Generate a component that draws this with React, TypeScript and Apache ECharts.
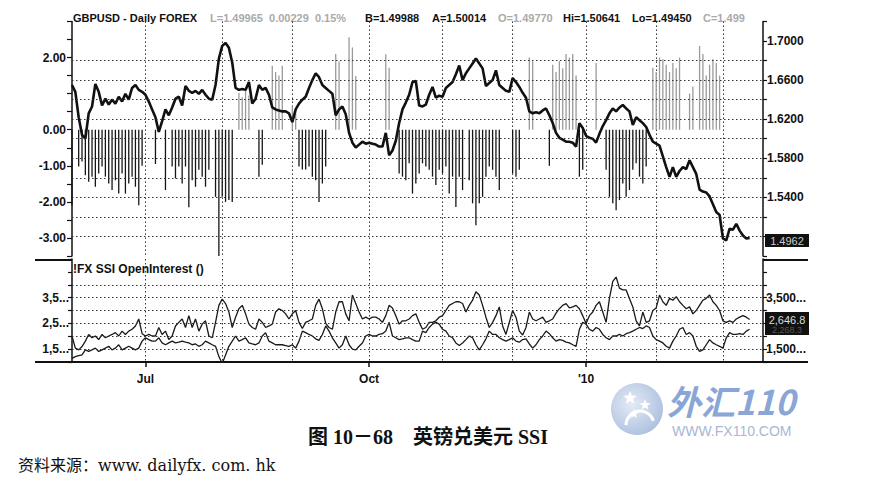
import { useEffect, useRef } from 'react';
import * as echarts from 'echarts';

// ---------- categories (trading days per month, Jun 2009 – Mar 2010) ----------
const MONTHS = ['Jun', 'Jul', 'Aug', 'Sep', 'Oct', 'Nov', 'Dec', 'Jan', 'Feb', 'Mar'];
const MONTH_DAYS = [22, 23, 21, 23, 22, 21, 22, 21, 20, 13];
const MONTH_LABELS: Record<string, string> = { Jul: 'Jul', Oct: 'Oct', Jan: "'10" };

// ---------- GBPUSD daily close ----------
const PRICE = [
  1.655, 1.648, 1.622, 1.604, 1.600, 1.626, 1.633, 1.656, 1.648, 1.634,
  1.641, 1.635, 1.640, 1.636, 1.643, 1.638, 1.646, 1.640, 1.652, 1.655,
  1.650, 1.648, 1.645, 1.638, 1.630, 1.622, 1.607, 1.618, 1.630, 1.624,
  1.632, 1.641, 1.643, 1.634, 1.654, 1.649, 1.647, 1.649, 1.646, 1.650,
  1.645, 1.641, 1.640, 1.655, 1.682, 1.695, 1.698, 1.693, 1.678, 1.652,
  1.650, 1.651, 1.650, 1.658, 1.636, 1.641, 1.655, 1.650, 1.652, 1.645,
  1.632, 1.630, 1.629, 1.628, 1.628, 1.626, 1.617, 1.630, 1.636, 1.640,
  1.643, 1.652, 1.660, 1.667, 1.663, 1.655, 1.652, 1.649, 1.646, 1.624,
  1.630, 1.633, 1.625, 1.606, 1.596, 1.591, 1.594, 1.597, 1.595, 1.596,
  1.595, 1.594, 1.592, 1.592, 1.606, 1.583, 1.588, 1.598, 1.616, 1.630,
  1.637, 1.645, 1.658, 1.659, 1.634, 1.633, 1.635, 1.645, 1.653, 1.642,
  1.644, 1.643, 1.652, 1.655, 1.658, 1.666, 1.675, 1.660, 1.667, 1.672,
  1.677, 1.682, 1.677, 1.672, 1.654, 1.657, 1.660, 1.670, 1.655, 1.652,
  1.649, 1.648, 1.662, 1.658, 1.653, 1.647, 1.642, 1.628, 1.626, 1.627,
  1.626, 1.629, 1.631, 1.624, 1.616, 1.606, 1.601, 1.599, 1.597, 1.597,
  1.596, 1.592, 1.616, 1.611, 1.603, 1.601, 1.600, 1.596, 1.605, 1.613,
  1.619, 1.626, 1.631, 1.628, 1.632, 1.6345, 1.631, 1.628, 1.614, 1.622,
  1.619, 1.616, 1.612, 1.604, 1.597, 1.595, 1.593, 1.582, 1.571, 1.561,
  1.571, 1.561, 1.567, 1.571, 1.569, 1.578, 1.571, 1.564, 1.548, 1.546,
  1.545, 1.541, 1.533, 1.525, 1.522, 1.498, 1.496, 1.508, 1.507, 1.513,
  1.506, 1.501, 1.498, 1.4985,
];

// ---------- SSI (speculative sentiment index) ----------
const SSI: (number | null)[] = [
  -2.1, null, -1.02, -0.88, -1.26, -1.44, -1.3, -1.58, -1.21, -1.02,
  -1.3, -1.49, -1.67, -1.4, -1.77, -1.21, -1.77, -1.49, -1.3, -1.58,
  -2.09, -1.0, null, null, null, -0.95, null, null, -1.67, null,
  -1.02, -1.35, -1.02, -1.49, -1.02, -2.15, -1.4, -1.58, -1.11, -1.3,
  -1.58, -1.11, null, -1.86, -3.5, -1.86, -2.0, -1.95, -2.0, null,
  1.02, 0.9, 1.1, 0.95, null, null, -1.3, -0.97, null, null,
  1.77, 1.6, 1.5, 1.77, null, null, 0.65, 0.6, -1.02, -1.1,
  -1.1, -1.02, -1.3, -1.4, -2.0, -1.49, -1.02, null, null, 2.1,
  1.9, null, null, 2.56, 2.28, 1.49, null, null, null, null,
  null, null, null, null, 2.09, 1.72, null, null, -1.21, -1.3,
  -1.4, -0.93, -1.77, -1.49, -1.21, -0.93, -1.02, -1.11, -1.3, -1.53,
  -1.11, -1.21, -1.02, -1.77, -1.3, -2.14, -1.3, -1.67, null, -1.4,
  -2.04, -2.65, -2.04, -1.86, -1.3, -1.02, -1.11, -1.3, -1.67, null,
  null, null, -1.21, -1.3, -1.11, null, null, 2.0, 1.9, null,
  null, null, null, -1.0, 1.8, 1.6, 1.9, 1.7, 2.1, 2.0,
  2.1, 1.5, -1.3, -1.11, null, null, null, 1.85, null, null,
  -1.11, -1.86, -2.04, -2.23, -1.95, -1.49, -1.86, -1.67, -1.11, -0.93,
  -1.3, -1.49, -1.02, null, 1.72, 1.6, 2.0, 1.95, 1.8, 1.6,
  1.85, 1.7, 2.0, null, null, 1.0, 1.2, null, 2.32, 2.1,
  1.5, 1.8, 1.95, 1.85, 1.5, null, null, null, null, null,
  null, null, null, null,
];

// ---------- FX SSI open interest (thousands) ----------
const OI_UPPER = [
  2.01, 1.54, 1.47, 1.6, 1.81, 2.07, 1.94, 2.01, 1.87, 2.07,
  1.94, 2.01, 2.07, 2.14, 2.01, 2.2, 2.07, 2.2, 2.27, 2.4,
  2.67, 2.1, 2.01, 2.07, 2.01, 2.01, 2.34, 2.07, 2.2, 1.87,
  2.01, 2.4, 2.54, 2.67, 2.34, 2.8, 2.34, 2.67, 2.2, 2.47,
  2.6, 2.01, 1.94, 2.54, 3.2, 3.44, 3.27, 2.94, 2.34, 2.74,
  3.07, 3.2, 2.87, 2.47, 2.34, 2.27, 2.67, 2.54, 2.34, 2.4,
  2.47, 2.94, 3.07, 3.0, 2.87, 2.67, 2.87, 3.0, 2.54, 2.3,
  2.54, 2.6, 2.67, 3.2, 3.44, 3.07, 2.5, 2.34, 2.27, 2.94,
  3.34, 3.34, 2.87, 2.6, 3.6, 3.27, 2.94, 2.67, 2.74, 2.67,
  2.74, 2.74, 2.67, 2.54, 2.8, 3.2, 3.1, 2.8, 2.47, 2.6,
  2.6, 2.67, 2.8, 2.87, 2.54, 2.27, 2.34, 2.54, 2.54, 2.6,
  2.74, 2.8, 3.0, 3.2, 3.27, 3.34, 3.34, 3.27, 2.94, 3.2,
  3.4, 3.73, 3.6, 3.2, 2.74, 2.34, 2.54, 2.8, 3.14, 2.4,
  2.07, 2.54, 3.0, 2.74, 2.2, 2.05, 2.34, 2.94, 2.67, 2.6,
  2.67, 2.74, 2.54, 2.6, 2.67, 2.9, 3.07, 3.2, 3.27, 3.1,
  3.14, 3.2, 3.07, 2.8, 2.5, 2.8, 2.94, 3.2, 3.34, 2.94,
  2.54, 3.47, 4.13, 4.3, 3.87, 3.8, 3.8, 3.47, 3.14, 2.6,
  2.4, 2.94, 2.54, 2.6, 3.0, 3.1, 3.6, 3.34, 3.2, 3.47,
  3.4, 3.54, 3.34, 3.2, 3.07, 3.14, 2.87, 3.0, 3.2, 3.4,
  3.47, 3.6, 3.34, 3.2, 3.0, 2.6, 2.54, 2.6, 2.54, 2.67,
  2.74, 2.8, 2.74, 2.65,
];
const OI_LOWER = [
  1.14, 1.21, 1.25, 1.28, 1.47, 1.41, 1.47, 1.54, 1.41, 1.47,
  1.54, 1.61, 1.47, 1.54, 1.67, 1.47, 1.54, 1.61, 1.54, 1.47,
  1.54, 1.81, 1.94, 1.87, 1.81, 1.81, 1.94, 1.74, 1.67, 1.74,
  1.81, 1.74, 1.77, 1.81, 1.77, 1.74, 1.67, 1.7, 1.61, 1.67,
  1.81, 1.74, 1.67, 1.61, 1.21, 0.94, 1.27, 1.61, 1.81, 2.01,
  1.81, 1.87, 1.94, 1.74, 1.7, 1.67, 1.74, 2.01, 2.14, 1.81,
  1.74, 1.67, 1.67, 1.67, 1.64, 1.61, 1.67, 1.54, 1.81, 2.2,
  2.14, 2.07, 2.01, 1.9, 1.84, 2.07, 2.4, 2.2, 1.94, 1.74,
  1.54, 1.67, 2.01, 1.67, 1.5, 1.47, 1.61, 1.74, 2.01, 2.07,
  2.01, 2.01, 2.07, 2.1, 2.2, 2.54, 2.01, 1.94, 1.87, 1.9,
  1.94, 1.94, 1.87, 1.81, 1.81, 2.2, 2.14, 2.34, 2.47, 2.54,
  2.47, 2.27, 2.2, 2.01, 1.94, 1.74, 1.64, 1.74, 1.87, 2.01,
  1.94, 1.67, 1.47, 1.67, 1.9, 2.2, 2.07, 2.07, 1.94, 1.87,
  1.81, 1.87, 1.94, 1.81, 1.77, 1.87, 1.9, 1.7, 1.54, 1.67,
  1.87, 2.01, 2.2, 2.1, 1.94, 1.81, 1.87, 1.84, 1.77, 1.74,
  1.67, 1.61, 2.27, 2.54, 2.47, 2.27, 2.2, 2.34, 2.27, 2.07,
  1.94, 1.87, 2.01, 2.01, 2.07, 2.01, 2.1, 2.14, 2.2, 2.27,
  2.34, 2.3, 2.4, 2.34, 2.01, 1.87, 1.81, 1.74, 1.61, 1.54,
  1.81, 2.01, 2.27, 2.34, 2.07, 2.14, 2.01, 1.61, 1.41, 1.47,
  1.67, 1.87, 1.74, 1.67, 1.61, 1.54, 1.94, 2.14, 2.07, 2.07,
  2.1, 2.07, 2.2, 2.27,
];

// ---------- axis / annotation text ----------
const PRICE_GRID = [1.5, 1.52, 1.54, 1.56, 1.58, 1.6, 1.62, 1.64, 1.66, 1.68];
const OI_GRID = [1.5, 2, 2.5, 3, 3.5, 4];
const SSI_LABELS = [2, 0, -1, -2, -3];
const PRICE_LABELS = [1.54, 1.58, 1.62, 1.66, 1.7];
const OI_LEFT_LABELS = [1.5, 2.5, 3.5];
const OI_RIGHT_LABELS = [1.5, 3.5];
const HEADER = [
  { t: 'GBPUSD - Daily FOREX', x: 73, dim: false },
  { t: 'L=1.49965  0.00229  0.15%', x: 210, dim: true },
  { t: 'B=1.49988', x: 365, dim: false },
  { t: 'A=1.50014', x: 432, dim: false },
  { t: 'O=1.49770', x: 498, dim: true },
  { t: 'Hi=1.50641', x: 563, dim: false },
  { t: 'Lo=1.49450', x: 632, dim: false },
  { t: 'C=1.499', x: 703, dim: true },
];
const PANEL_TITLE = '!FX SSI OpenInterest ()';
const LAST_PRICE_LABEL = '1.4962';
const LAST_OI_LABELS = ['2,646.8', '2,268.3'];
const CAPTION = '图 10－68　英镑兑美元 SSI';
const SOURCE = '资料来源：www. dailyfx. com. hk';
const WM_TITLE = '外汇110';
const WM_URL = 'WWW.FX110.COM';

const categories: string[] = [];
const monthStart = new Set<number>();
const labelAt = new Map<number, string>();
MONTHS.forEach((m, k) => {
  if (categories.length > 0) monthStart.add(categories.length);
  if (MONTH_LABELS[m]) labelAt.set(categories.length, MONTH_LABELS[m]);
  for (let d = 1; d <= MONTH_DAYS[k]; d++) categories.push(`${m} ${d}`);
});

const near = (list: number[], v: number) => list.some((x) => Math.abs(x - v) < 1e-6);
const SANS = '"Liberation Sans", Arial, sans-serif';
const AX_FONT = { fontFamily: SANS, fontWeight: 'bold' as const, fontSize: 12, color: '#111' };
const DOT = { type: [1.5, 2.5] as number[], color: '#333', width: 1 };

function starPoints(cx: number, cy: number, R: number, r: number) {
  const pts: number[][] = [];
  for (let k = 0; k < 10; k++) {
    const a = -Math.PI / 2 + (k * Math.PI) / 5;
    const rad = k % 2 === 0 ? R : r;
    pts.push([cx + rad * Math.cos(a), cy + rad * Math.sin(a)]);
  }
  return pts;
}

export default function App() {
  const ref = useRef<HTMLDivElement>(null);
  useEffect(() => {
    if (!ref.current) return;
    const chart = echarts.init(ref.current, undefined, { renderer: 'svg' });
    const xBase = {
      type: 'category' as const,
      data: categories,
      boundaryGap: false,
      axisLine: { show: false },
      axisTick: { show: false },
      axisLabel: { show: false },
      splitLine: { show: true, interval: (i: number) => monthStart.has(i), lineStyle: DOT },
    };
    const graphic: any[] = [];
    HEADER.forEach((h) =>
      graphic.push({
        type: 'text',
        style: {
          text: h.t, x: h.x, y: 18, textVerticalAlign: 'middle',
          font: `bold 11px ${SANS}`, fill: h.dim ? '#aaa' : '#111',
        },
      })
    );
    graphic.push(
      { type: 'text', style: { text: PANEL_TITLE, x: 73, y: 269, textVerticalAlign: 'middle', font: `bold 12px ${SANS}`, fill: '#111' } },
      { type: 'line', shape: { x1: 35, y1: 260, x2: 72, y2: 260 }, style: { stroke: '#111', lineWidth: 2 } },
      { type: 'line', shape: { x1: 763, y1: 260, x2: 808, y2: 260 }, style: { stroke: '#111', lineWidth: 2 } },
      { type: 'line', shape: { x1: 35, y1: 362, x2: 808, y2: 362 }, style: { stroke: '#111', lineWidth: 2 } },
      { type: 'rect', shape: { x: 765, y: 234, width: 44, height: 13 }, style: { fill: '#111' } },
      { type: 'text', style: { text: LAST_PRICE_LABEL, x: 787, y: 240.5, textAlign: 'center', textVerticalAlign: 'middle', font: `11px ${SANS}`, fill: '#ccc' } },
      { type: 'rect', shape: { x: 765, y: 312, width: 44, height: 23 }, style: { fill: '#111' } },
      { type: 'text', style: { text: LAST_OI_LABELS[0], x: 787, y: 319.5, textAlign: 'center', textVerticalAlign: 'middle', font: `11px ${SANS}`, fill: '#ddd' } },
      { type: 'text', style: { text: LAST_OI_LABELS[1], x: 787, y: 330, textAlign: 'center', textVerticalAlign: 'middle', font: `9px ${SANS}`, fill: '#555' } },
      // caption & source
      { type: 'text', style: { text: CAPTION, x: 428, y: 437, textAlign: 'center', textVerticalAlign: 'middle', font: 'bold 20px "Liberation Serif", "Noto Sans CJK SC", serif', fill: '#111' } },
      { type: 'text', style: { text: SOURCE, x: 18, y: 465, textVerticalAlign: 'middle', font: '16px "DejaVu Serif", "Noto Sans CJK SC", serif', fill: '#111' } },
      // watermark
      {
        type: 'circle', shape: { cx: 637, cy: 409, r: 26 },
        style: {
          fill: new echarts.graphic.RadialGradient(0.4, 0.4, 0.7, [
            { offset: 0, color: '#e4ebf6' },
            { offset: 1, color: '#a9bddd' },
          ]),
        },
      },
      { type: 'polygon', shape: { points: starPoints(630, 398, 7, 3) }, style: { fill: '#fff' } },
      { type: 'polygon', shape: { points: starPoints(645, 405, 6, 2.5) }, style: { fill: '#fff' } },
      { type: 'polygon', shape: { points: starPoints(634, 414, 5, 2) }, style: { fill: '#fff' } },
      { type: 'arc', shape: { cx: 640, cy: 425, r: 14, startAngle: Math.PI, endAngle: Math.PI * 1.9 }, style: { stroke: '#fff', lineWidth: 3, fill: 'none' } },
      { type: 'text', style: { text: WM_TITLE, x: 667, y: 400, textVerticalAlign: 'middle', font: 'italic bold 34px "Noto Sans CJK SC", sans-serif', fill: '#8aa6d6' } },
      { type: 'text', style: { text: WM_URL, x: 672, y: 431, textVerticalAlign: 'middle', font: `14px ${SANS}`, fill: '#a8b8d2' } }
    );

    chart.setOption({
      animation: false,
      backgroundColor: '#fff',
      grid: [
        { left: 72, top: 21.45, width: 691, height: 234.6 },
        { left: 72, top: 259, width: 691, height: 103 },
      ],
      xAxis: [
        { ...xBase, gridIndex: 0 },
        {
          ...xBase,
          gridIndex: 1,
          axisTick: { show: true, interval: (i: number) => labelAt.has(i), length: 5, lineStyle: { color: '#111', width: 1.5 } },
          axisLabel: {
            show: true, ...AX_FONT, margin: 11,
            interval: (i: number) => labelAt.has(i),
            formatter: (_v: string, i: number) => labelAt.get(i) ?? '',
          },
        },
      ],
      yAxis: [
        {
          type: 'value', gridIndex: 0, position: 'left', min: -3.5, max: 3, interval: 0.5,
          axisLine: { show: true, lineStyle: { color: '#111', width: 1.5 } },
          axisTick: { show: true, length: 5, lineStyle: { color: '#111', width: 1.2 } },
          axisLabel: { ...AX_FONT, margin: 6, formatter: (v: number) => (near(SSI_LABELS, v) ? v.toFixed(2) : '') },
          splitLine: { show: false },
        },
        {
          type: 'value', gridIndex: 0, position: 'right', min: 1.48, max: 1.72, interval: 0.02,
          axisLine: { show: true, lineStyle: { color: '#111', width: 1.5 } },
          axisTick: { show: true, length: 4, lineStyle: { color: '#111', width: 1.2 } },
          axisLabel: { ...AX_FONT, margin: 4, formatter: (v: number) => (near(PRICE_LABELS, v) ? v.toFixed(4) : '') },
          splitLine: { show: false },
        },
        {
          type: 'value', gridIndex: 1, position: 'left', min: 1, max: 5, interval: 0.5,
          axisLine: { show: true, lineStyle: { color: '#111', width: 1.5 } },
          axisTick: { show: true, length: 4, lineStyle: { color: '#111', width: 1.2 } },
          axisLabel: { ...AX_FONT, margin: 3, formatter: (v: number) => (near(OI_LEFT_LABELS, v) ? `${v.toFixed(1).replace('.', ',')}...` : '') },
          splitLine: { show: false },
        },
        {
          type: 'value', gridIndex: 1, position: 'right', min: 1, max: 5, interval: 0.5,
          axisLine: { show: true, lineStyle: { color: '#111', width: 1.5 } },
          axisTick: { show: true, length: 4, lineStyle: { color: '#111', width: 1.2 } },
          axisLabel: { ...AX_FONT, margin: 3, formatter: (v: number) => (near(OI_RIGHT_LABELS, v) ? `${Math.round(v * 1000).toLocaleString('en-US')}...` : '') },
          splitLine: { show: false },
        },
      ],
      series: [
        {
          name: 'SSI', type: 'bar', xAxisIndex: 0, yAxisIndex: 0, data: SSI, barWidth: 1.3,
          itemStyle: { color: (p: any) => (p.value >= 0 ? '#9a9a9a' : '#151515') },
        },
        {
          name: 'GBPUSD', type: 'line', xAxisIndex: 0, yAxisIndex: 1, data: PRICE,
          showSymbol: false, lineStyle: { color: '#111', width: 2.6 },
          markLine: {
            silent: true, symbol: ['none', 'none'], label: { show: false }, lineStyle: DOT,
            data: PRICE_GRID.map((v) => ({ yAxis: v })),
          },
        },
        {
          name: 'OI A', type: 'line', xAxisIndex: 1, yAxisIndex: 2, data: OI_UPPER,
          showSymbol: false, lineStyle: { color: '#1a1a1a', width: 1.3 },
          markLine: {
            silent: true, symbol: ['none', 'none'], label: { show: false }, lineStyle: DOT,
            data: OI_GRID.map((v) => ({ yAxis: v })),
          },
        },
        {
          name: 'OI B', type: 'line', xAxisIndex: 1, yAxisIndex: 2, data: OI_LOWER,
          showSymbol: false, lineStyle: { color: '#1a1a1a', width: 1.3 },
        },
      ],
      graphic,
    });
    return () => chart.dispose();
  }, []);
  return (
    <div
      ref={ref}
      style={{ position: 'fixed', left: 0, top: 0, width: 879, height: 494, background: '#fff' }}
    />
  );
}
